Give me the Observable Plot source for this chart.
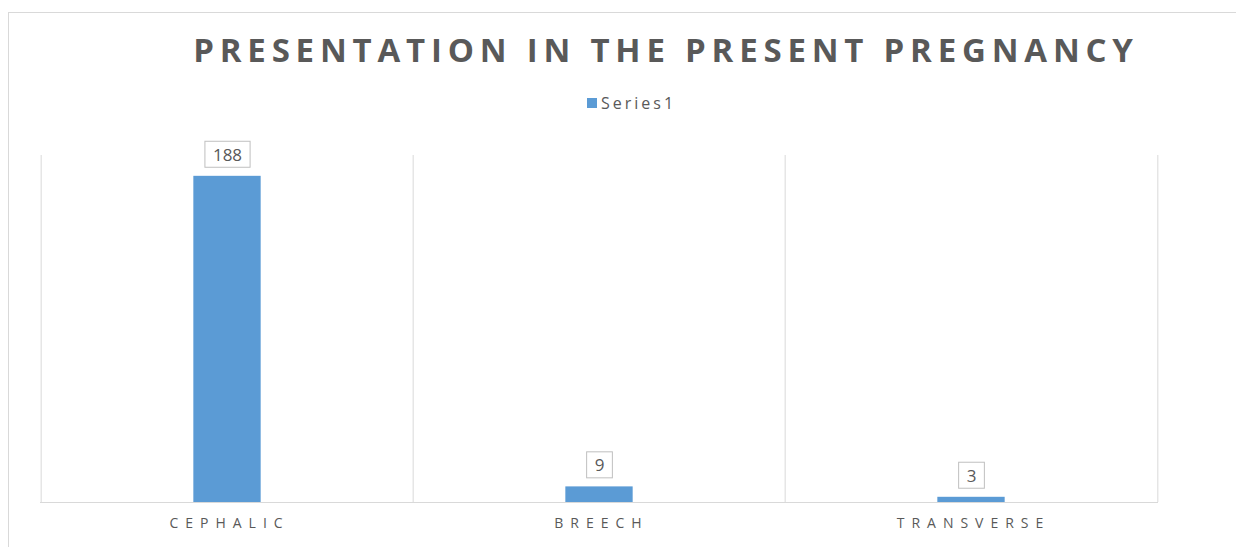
<!DOCTYPE html>
<html>
<head>
<meta charset="utf-8">
<script src="https://cdn.jsdelivr.net/npm/d3@7"></script>
<script src="https://cdn.jsdelivr.net/npm/@observablehq/plot@0.6"></script>
<style>
  html, body { margin: 0; padding: 0; background: #fff; }
  #chart { position: relative; width: 1236px; height: 547px; overflow: hidden; font-family: "Open Sans", sans-serif; }
  #frame { position: absolute; left: 8px; top: 12px; width: 2000px; height: 2000px; border: 1px solid #d9d9d9; box-sizing: border-box; }
  #title { position: absolute; left: 0; width: 1332px; top: 28px; text-align: center; font-size: 33px; font-weight: 700; letter-spacing: 5.8px; color: #595959; line-height: 44px; white-space: nowrap; }
  #legend { position: absolute; left: 587px; top: 93px; font-size: 16px; letter-spacing: 3px; color: #595959; line-height: 20px; display: flex; align-items: center; }
  #legend .swatch { width: 10px; height: 10px; background: #5b9bd5; margin-right: 4px; }
  #plot { position: absolute; left: 0; top: 140px; }
  #plot svg [aria-label="x-axis tick label"] text { letter-spacing: 7px; }
</style>
</head>
<body>
<div id="chart">
  <div id="frame"></div>
  <div id="title">PRESENTATION IN THE PRESENT PREGNANCY</div>
  <div id="legend"><span class="swatch"></span><span id="series-name"></span></div>
  <div id="plot"></div>
</div>
<script>
// Fetal presentation counts
const categories = ["CEPHALIC", "BREECH", "TRANSVERSE"];
const values = [188, 9, 3];
const seriesName = "Series1";

const data = categories.map((c, i) => ({category: c, value: values[i]}));
document.getElementById("series-name").textContent = seriesName;

const width = 1236, height = 407;
const marginLeft = 40, marginRight = 78, marginTop = 15, marginBottom = 45;
const bandWidth = (width - marginLeft - marginRight) / categories.length;
const barWidth = 68;
const inset = (bandWidth - barWidth) / 2;

const plot = Plot.plot({
  width, height, marginLeft, marginRight, marginTop, marginBottom,
  style: {color: "#595959", fontFamily: "'Open Sans', sans-serif", background: "transparent"},
  x: {type: "band", domain: categories, paddingInner: 0, paddingOuter: 0, label: null},
  y: {domain: [0, 200], axis: null},
  marks: [
    // vertical separators at the category boundaries
    Plot.ruleX(categories, {x: d => d, dx: -bandWidth / 2, y1: 0, y2: 200, stroke: "#d9d9d9"}),
    Plot.ruleX(categories.slice(-1), {x: d => d, dx: bandWidth / 2, y1: 0, y2: 200, stroke: "#d9d9d9"}),
    Plot.barY(data, {x: "category", y: "value", fill: "#5b9bd5", insetLeft: inset, insetRight: inset}),
    Plot.ruleY([0], {stroke: "#d9d9d9"}),
    Plot.text(data, {x: "category", y: "value", text: d => String(d.value), dy: -21, fontSize: 17, fill: "#595959", className: "value-label"}),
    Plot.axisX({tickSize: 0, tickPadding: 16, fontSize: 14, dx: 2, label: null})
  ]
});
document.getElementById("plot").appendChild(plot);

// boxed data labels
d3.select(plot).selectAll("g.value-label text").each(function() {
  const b = this.getBBox();
  const padX = 8, h = 26;
  const cy = b.y + b.height / 2;
  d3.select(this.parentNode).insert("rect", () => this)
    .attr("x", b.x - padX).attr("y", cy - h / 2)
    .attr("width", b.width + 2 * padX).attr("height", h)
    .attr("fill", "#fff").attr("stroke", "#bfbfbf").attr("stroke-width", 1)
    .attr("transform", this.getAttribute("transform"));
});
</script>
</body>
</html>
